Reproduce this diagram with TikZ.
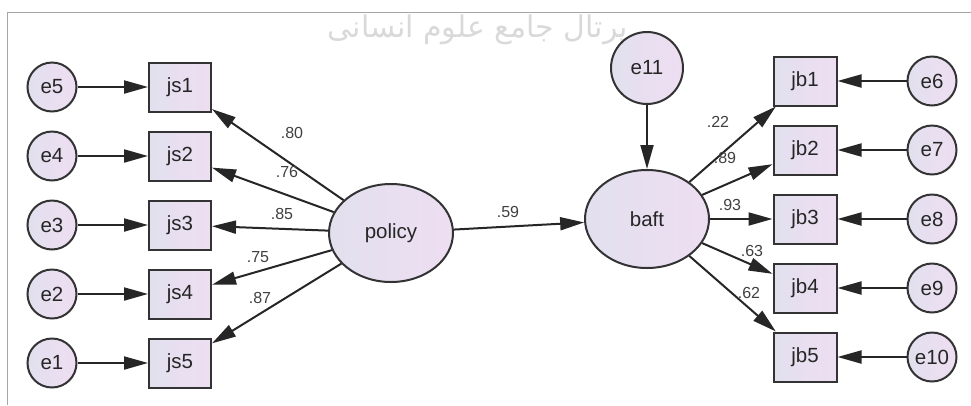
\documentclass[tikz,border=0pt]{standalone}
\usepackage{fontspec}
\setmainfont{Liberation Sans}
\newfontfamily\arabicfont[Script=Arabic]{DejaVu Sans}
\TeXXeTstate=1
\usetikzlibrary{arrows.meta, shapes.geometric}
\definecolor{lavleft}{RGB}{226,224,238}
\definecolor{lavright}{RGB}{238,222,242}

\begin{document}
\begin{tikzpicture}[x=1pt, y=-1pt,
    item/.style={draw=black!80, line width=2pt, left color=lavleft, right color=lavright,
      minimum width=62pt, minimum height=49pt, inner sep=0pt, text=black!85,
      font=\fontsize{20.5}{22}\selectfont},
    err/.style={item, circle, minimum width=49pt, minimum height=49pt},
    latent/.style={item, ellipse, minimum width=124pt, minimum height=98pt},
    coef/.style={inner sep=0pt, text=black!75, font=\fontsize{16}{18}\selectfont},
    link/.style={draw=black!85, line width=2pt, -{Triangle[length=24pt,width=13pt]}}]
  \useasboundingbox (0,0) rectangle (971,405);
  %tikz  frame and watermark
    \node[text=gray!30, font=\arabicfont\fontsize{30}{32}\selectfont] (mark) at (478,30)
      {\beginR پرتال جامع علوم انسانی\endR};
    \draw[gray!70, line width=0.8pt] (7,405) -- (7,12) -- (971,12);
  %tikz  latent variables
    \node[latent] (policy) at (391,233) {policy};
    \node[latent] (baft) at (647,219) {baft};
    \node[err, minimum width=72pt, minimum height=72pt] (e11) at (647,68) {e11};
    \draw[link] (policy) -- (baft);
    \draw[link] (e11) -- (baft);
  %tikz  left block
    \foreach \i in {1,...,5}{
      \pgfmathtruncatemacro\k{6-\i}
      \node[item] (js\i) at (180,{18+69*\i}) {js\i};
      \node[err] (e\k) at (52,{18+69*\i}) {e\k};
      \draw[link] (e\k) -- (js\i);
      \draw[link] (policy) -- (js\i);
    }
  %tikz  right block
    \foreach \i in {1,...,5}{
      \pgfmathtruncatemacro\k{5+\i}
      \node[item, minimum width=63pt] (jb\i) at (805,{12+69*\i}) {jb\i};
      \node[err] (e\k) at (932,{12+69*\i}) {e\k};
      \draw[link] (e\k) -- (jb\i);
      \draw[link] (baft) -- (jb\i);
    }
  %tikz  estimates
    \foreach \n/\v/\x/\y in {a/.80/292/133, b/.76/287/172, c/.85/282/214, d/.75/258/257,
        f/.87/260/298, g/.59/508/212, h/.22/718/122, k/.89/725/158, m/.93/730/205,
        p/.63/752/251, q/.62/749/293}{
      \node[coef] (est\n) at (\x,\y) {\v};
    }
\end{tikzpicture}
\end{document}
